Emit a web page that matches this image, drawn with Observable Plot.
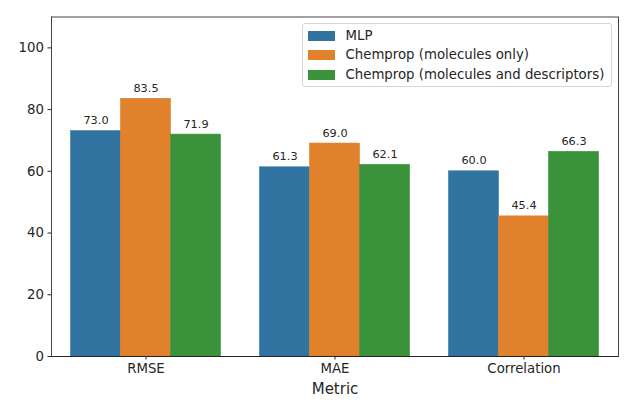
<!DOCTYPE html>
<html>
<head>
<meta charset="utf-8">
<script src="https://cdn.jsdelivr.net/npm/d3@7"></script>
<script src="https://cdn.jsdelivr.net/npm/@observablehq/plot@0.6"></script>
<style>
  html, body { margin: 0; padding: 0; background: white; }
  #wrap { position: relative; width: 636px; height: 402px; font-family: "DejaVu Sans", sans-serif; }
  #legend { position: absolute; left: 301.5px; top: 23px; width: 310px; height: 64px;
    border: 1px solid #d6d6d6; border-radius: 3px; background: rgba(255,255,255,0.85); box-sizing: border-box; }
  .row { position: absolute; left: 0; height: 20px; }
  .sw { position: absolute; left: 5px; top: 5px; width: 27px; height: 10px; }
  .lab { position: absolute; left: 43px; top: 0; white-space: nowrap; font-size: 13.3px; color: #262626; line-height: 20px; }
</style>
</head>
<body>
<div id="wrap"></div>
<script>
const metrics = ["RMSE", "MAE", "Correlation"];
const models = ["MLP", "Chemprop (molecules only)", "Chemprop (molecules and descriptors)"];
const colors = ["#3274a1", "#e1812c", "#3a923a"];
const mlpValues = [73.0, 61.3, 60.0];
const chempropMolValues = [83.5, 69.0, 45.4];
const chempropDescValues = [71.9, 62.1, 66.3];
const yTicks = [0, 20, 40, 60, 80, 100];
const yDomain = [0, 110];
const xLabel = "Metric";

const series = [mlpValues, chempropMolValues, chempropDescValues];
const data = metrics.flatMap((m, i) => models.map((model, j) => ({metric: m, model, value: series[j][i]})));

const chart = Plot.plot({
  width: 636,
  height: 402,
  marginLeft: 50.5,
  marginRight: 17.4,
  marginTop: 16.5,
  marginBottom: 46,
  style: {fontFamily: "DejaVu Sans", fontSize: "13.3px", color: "#262626", background: "white"},
  fx: {domain: metrics, paddingInner: 0, paddingOuter: 0, label: null},
  x: {domain: models, paddingInner: 0, paddingOuter: 0.375, axis: null},
  y: {domain: yDomain, label: null},
  color: {domain: models, range: colors},
  marks: [
    Plot.barY(data, {fx: "metric", x: "model", y: "value", fill: "model", stroke: "model", strokeWidth: 0.6, inset: 0}),
    Plot.text(data, {fx: "metric", x: "model", y: "value", text: d => d.value.toFixed(1),
      dy: -7, lineAnchor: "bottom", fontSize: 11.3, fill: "#262626"}),
    Plot.axisY({ticks: yTicks, tickSize: 3.5, tickPadding: 4, label: null, stroke: "#262626", fill: "#262626"}),
    Plot.axisFx({anchor: "bottom", tickSize: 3.5, tickPadding: 4, label: null, stroke: "#262626", fill: "#262626"}),
    Plot.ruleY([yDomain[0]], {stroke: "#262626", strokeWidth: 1}),
    Plot.ruleY([yDomain[1]], {stroke: "#444", strokeWidth: 1}),
    Plot.frame({anchor: "left", facetAnchor: "left", stroke: "#444", strokeWidth: 1}),
    Plot.frame({anchor: "right", facetAnchor: "right", stroke: "#444", strokeWidth: 1}),
    Plot.text([xLabel], {facet: "super", frameAnchor: "bottom", dy: 37, lineAnchor: "bottom", fontSize: 15, fill: "#262626"})
  ]
});

const wrap = document.getElementById("wrap");
wrap.appendChild(chart);

const colorScale = chart.scale("color");
const legend = document.createElement("div");
legend.id = "legend";
models.forEach((m, i) => {
  const row = document.createElement("div");
  row.className = "row";
  row.style.top = (1.5 + i * 19.5) + "px";
  const sw = document.createElement("div");
  sw.className = "sw";
  sw.style.background = colorScale.apply(m);
  const lab = document.createElement("div");
  lab.className = "lab";
  lab.textContent = m;
  row.appendChild(sw);
  row.appendChild(lab);
  legend.appendChild(row);
});
wrap.appendChild(legend);
</script>
</body>
</html>
